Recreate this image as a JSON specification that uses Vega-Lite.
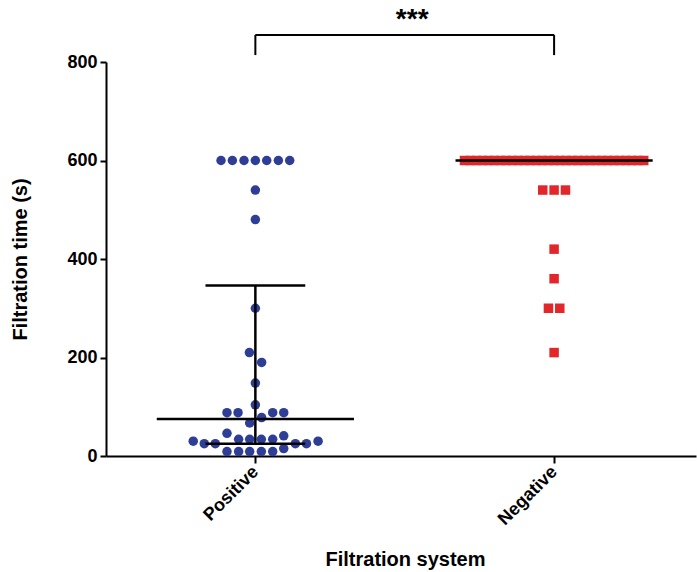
{
  "$schema": "https://vega.github.io/schema/vega-lite/v6.json",
  "width": 590,
  "height": 394,
  "autosize": {"type": "none"},
  "padding": {"left": 106, "top": 62, "right": 1, "bottom": 116},
  "background": "white",
  "config": {"view": {"stroke": null}, "font": "Liberation Sans"},
  "datasets": {
    "points": [
      {"group": "Positive", "xpos": 0.885, "time": 600},
      {"group": "Positive", "xpos": 0.923, "time": 600},
      {"group": "Positive", "xpos": 0.962, "time": 600},
      {"group": "Positive", "xpos": 1.0, "time": 600},
      {"group": "Positive", "xpos": 1.038, "time": 600},
      {"group": "Positive", "xpos": 1.077, "time": 600},
      {"group": "Positive", "xpos": 1.115, "time": 600},
      {"group": "Positive", "xpos": 1.0, "time": 540},
      {"group": "Positive", "xpos": 1.0, "time": 480},
      {"group": "Positive", "xpos": 1.0, "time": 300},
      {"group": "Positive", "xpos": 0.98, "time": 210},
      {"group": "Positive", "xpos": 1.021, "time": 190},
      {"group": "Positive", "xpos": 1.0, "time": 148},
      {"group": "Positive", "xpos": 1.0, "time": 104},
      {"group": "Positive", "xpos": 0.905, "time": 88},
      {"group": "Positive", "xpos": 0.942, "time": 88},
      {"group": "Positive", "xpos": 1.058, "time": 88},
      {"group": "Positive", "xpos": 1.095, "time": 88},
      {"group": "Positive", "xpos": 1.021, "time": 78},
      {"group": "Positive", "xpos": 0.981, "time": 67},
      {"group": "Positive", "xpos": 0.905, "time": 46},
      {"group": "Positive", "xpos": 1.095, "time": 41},
      {"group": "Positive", "xpos": 0.944, "time": 34},
      {"group": "Positive", "xpos": 0.981, "time": 34},
      {"group": "Positive", "xpos": 1.02, "time": 34},
      {"group": "Positive", "xpos": 1.058, "time": 34},
      {"group": "Positive", "xpos": 0.792, "time": 30},
      {"group": "Positive", "xpos": 1.21, "time": 30},
      {"group": "Positive", "xpos": 0.829, "time": 25},
      {"group": "Positive", "xpos": 0.866, "time": 25},
      {"group": "Positive", "xpos": 1.134, "time": 25},
      {"group": "Positive", "xpos": 1.171, "time": 25},
      {"group": "Positive", "xpos": 1.095, "time": 15},
      {"group": "Positive", "xpos": 0.905, "time": 9},
      {"group": "Positive", "xpos": 0.944, "time": 9},
      {"group": "Positive", "xpos": 0.981, "time": 9},
      {"group": "Positive", "xpos": 1.02, "time": 9},
      {"group": "Positive", "xpos": 1.058, "time": 9},
      {"group": "Negative", "xpos": 1.7, "time": 600},
      {"group": "Negative", "xpos": 1.72, "time": 600},
      {"group": "Negative", "xpos": 1.74, "time": 600},
      {"group": "Negative", "xpos": 1.76, "time": 600},
      {"group": "Negative", "xpos": 1.78, "time": 600},
      {"group": "Negative", "xpos": 1.8, "time": 600},
      {"group": "Negative", "xpos": 1.82, "time": 600},
      {"group": "Negative", "xpos": 1.84, "time": 600},
      {"group": "Negative", "xpos": 1.86, "time": 600},
      {"group": "Negative", "xpos": 1.88, "time": 600},
      {"group": "Negative", "xpos": 1.9, "time": 600},
      {"group": "Negative", "xpos": 1.92, "time": 600},
      {"group": "Negative", "xpos": 1.94, "time": 600},
      {"group": "Negative", "xpos": 1.96, "time": 600},
      {"group": "Negative", "xpos": 1.98, "time": 600},
      {"group": "Negative", "xpos": 2.0, "time": 600},
      {"group": "Negative", "xpos": 2.02, "time": 600},
      {"group": "Negative", "xpos": 2.04, "time": 600},
      {"group": "Negative", "xpos": 2.06, "time": 600},
      {"group": "Negative", "xpos": 2.08, "time": 600},
      {"group": "Negative", "xpos": 2.1, "time": 600},
      {"group": "Negative", "xpos": 2.12, "time": 600},
      {"group": "Negative", "xpos": 2.14, "time": 600},
      {"group": "Negative", "xpos": 2.16, "time": 600},
      {"group": "Negative", "xpos": 2.18, "time": 600},
      {"group": "Negative", "xpos": 2.2, "time": 600},
      {"group": "Negative", "xpos": 2.22, "time": 600},
      {"group": "Negative", "xpos": 2.24, "time": 600},
      {"group": "Negative", "xpos": 2.26, "time": 600},
      {"group": "Negative", "xpos": 2.28, "time": 600},
      {"group": "Negative", "xpos": 2.3, "time": 600},
      {"group": "Negative", "xpos": 1.962, "time": 540},
      {"group": "Negative", "xpos": 2.0, "time": 540},
      {"group": "Negative", "xpos": 2.038, "time": 540},
      {"group": "Negative", "xpos": 2.0, "time": 420},
      {"group": "Negative", "xpos": 2.0, "time": 360},
      {"group": "Negative", "xpos": 1.981, "time": 300},
      {"group": "Negative", "xpos": 2.019, "time": 300},
      {"group": "Negative", "xpos": 2.0, "time": 210}
    ],
    "stats": [
      {"x": 0.67, "x2": 1.33, "y": 75, "y2": 75},
      {"x": 0.833, "x2": 1.167, "y": 346, "y2": 346},
      {"x": 0.833, "x2": 1.167, "y": 25, "y2": 25},
      {"x": 1.0, "x2": 1.0, "y": 25, "y2": 346},
      {"x": 1.67, "x2": 2.33, "y": 600, "y2": 600}
    ],
    "bracket": [
      {"x": 1.0, "x2": 2.0, "y": 855, "y2": 855},
      {"x": 1.0, "x2": 1.0, "y": 814, "y2": 855},
      {"x": 2.0, "x2": 2.0, "y": 814, "y2": 855}
    ],
    "sig": [
      {"x": 1.525, "y": 885, "label": "***"}
    ]
  },
  "layer": [
    {
      "data": {"name": "points"},
      "mark": {"type": "point", "filled": true, "opacity": 1},
      "encoding": {
        "x": {
          "field": "xpos", "type": "quantitative", "title": "Filtration system",
          "scale": {"domain": [0.5, 2.475], "nice": false, "zero": false},
          "axis": {
            "values": [1, 2],
            "labelExpr": "datum.value == 1 ? 'Positive' : 'Negative'",
            "labelAngle": -45, "labelAlign": "right", "labelBaseline": "middle",
            "labelFontSize": 18, "labelFontWeight": "bold", "labelColor": "black", "labelPadding": 6,
            "tickSize": 7, "tickWidth": 2, "tickColor": "black",
            "domainColor": "black", "domainWidth": 2, "grid": false,
            "titleFontSize": 20, "titleFontWeight": "bold", "titleColor": "black",
            "titleX": 299, "titleY": 103, "titleBaseline": "middle", "titleAlign": "center"
          }
        },
        "y": {
          "field": "time", "type": "quantitative", "title": "Filtration time (s)",
          "scale": {"domain": [0, 800], "nice": false},
          "axis": {
            "values": [0, 200, 400, 600, 800],
            "labelFontSize": 18, "labelFontWeight": "bold", "labelColor": "black", "labelPadding": 3,
            "tickSize": 6, "tickWidth": 2, "tickColor": "black",
            "domainColor": "black", "domainWidth": 2, "grid": false,
            "titleFontSize": 20, "titleFontWeight": "bold", "titleColor": "black",
            "titleX": -86, "titleY": 197, "titleAngle": -90, "titleBaseline": "middle", "titleAlign": "center"
          }
        },
        "color": {"field": "group", "type": "nominal", "scale": {"domain": ["Positive", "Negative"], "range": ["#2E3E96", "#E2262A"]}, "legend": null},
        "shape": {"field": "group", "type": "nominal", "scale": {"domain": ["Positive", "Negative"], "range": ["circle", "square"]}, "legend": null},
        "size": {"value": 90}
      }
    },
    {
      "data": {"name": "stats"},
      "mark": {"type": "rule", "color": "black", "strokeWidth": 2.5},
      "encoding": {
        "x": {"field": "x", "type": "quantitative", "title": "Filtration system"},
        "x2": {"field": "x2"},
        "y": {"field": "y", "type": "quantitative", "title": "Filtration time (s)"},
        "y2": {"field": "y2"}
      }
    },
    {
      "data": {"name": "bracket"},
      "mark": {"type": "rule", "color": "black", "strokeWidth": 2},
      "encoding": {
        "x": {"field": "x", "type": "quantitative", "title": "Filtration system"},
        "x2": {"field": "x2"},
        "y": {"field": "y", "type": "quantitative", "title": "Filtration time (s)"},
        "y2": {"field": "y2"}
      }
    },
    {
      "data": {"name": "sig"},
      "mark": {"type": "text", "fontSize": 28, "fontWeight": "bold", "color": "black", "baseline": "middle", "align": "center"},
      "encoding": {
        "x": {"field": "x", "type": "quantitative", "title": "Filtration system"},
        "y": {"field": "y", "type": "quantitative", "title": "Filtration time (s)"},
        "text": {"field": "label"}
      }
    }
  ]
}
